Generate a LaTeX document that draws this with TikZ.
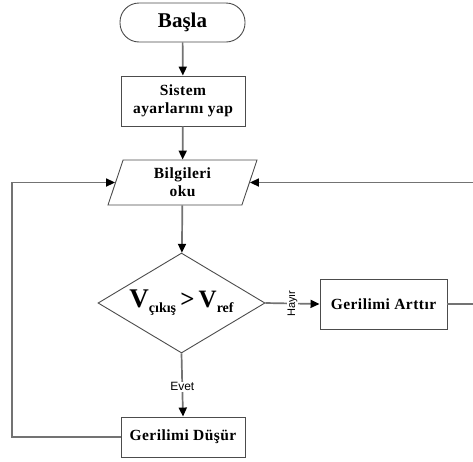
\documentclass[tikz,border=0pt]{standalone}
\usepackage{fontspec}
\setmainfont{Liberation Serif}
\newfontfamily\boxfont[LetterSpace=3]{Liberation Serif}
\newfontfamily\lblfont{Liberation Sans}
\usetikzlibrary{shapes.geometric,arrows.meta}
\begin{document}
\begin{tikzpicture}[x=1pt,y=-1pt,
  boxline/.style={draw=black!70, line width=0.9pt, fill=white, align=center, inner sep=1pt,
     font=\boxfont\bfseries\fontsize{15.5}{18}\selectfont},
  procbox/.style={boxline, rectangle},
  conn/.style={draw=black!55, line width=1.7pt, -{Triangle[length=9pt,width=8pt,color=black,fill=black]}},
  lbl/.style={font=\lblfont\fontsize{12}{13}\selectfont, fill=white, inner sep=1pt}
]
\useasboundingbox (0,0) rectangle (473,461);
\node[procbox, rounded corners=19pt, minimum width=125pt, minimum height=39pt,
      font=\bfseries\fontsize{21}{23}\selectfont] (start) at (182.5,22.5) {Başla};
\node[procbox, minimum width=124pt, minimum height=50pt] (sys) at (183,101) {Sistem\\ayarlarını yap};
\node[boxline, trapezium, trapezium left angle=64, trapezium right angle=116,
      trapezium stretches body, minimum width=149pt, minimum height=45pt] (read) at (182.5,182.5) {Bilgileri\\oku};
\node[boxline, diamond, aspect=1.67, minimum width=167pt, minimum height=100pt, inner sep=0pt, font=\bfseries] (dec) at (181.5,303)
  {{\fontsize{27}{28}\selectfont V}\raisebox{-5pt}{\fontsize{14}{15}\selectfont çıkış}{\fontsize{25}{26}\selectfont\,>\,V}\raisebox{-5pt}{\fontsize{14}{15}\selectfont ref}};
\node[procbox, minimum width=127pt, minimum height=50pt] (inc) at (383.5,304) {Gerilimi Arttır};
\node[procbox, minimum width=124pt, minimum height=40pt] (low) at (183,437) {Gerilimi Düşür};
\coordinate (lc) at (12,437);
\coordinate (rc) at (476,304);
\draw[conn] (start) -- (sys);
\draw[conn] (sys) -- (read);
\draw[conn] (read) -- (dec);
\draw[conn] (dec.east) -- node[lbl, rotate=90, pos=0.5, font=\lblfont\fontsize{11}{12}\selectfont] {Hayır} (inc.west);
\draw[conn] (dec.south) -- node[lbl, pos=0.53] {Evet} (low.north);
\draw[conn] (low.west) -- (lc) |- (read.west);
\draw[conn] (inc.east) -- (rc) |- (read.east);
\end{tikzpicture}
\end{document}
